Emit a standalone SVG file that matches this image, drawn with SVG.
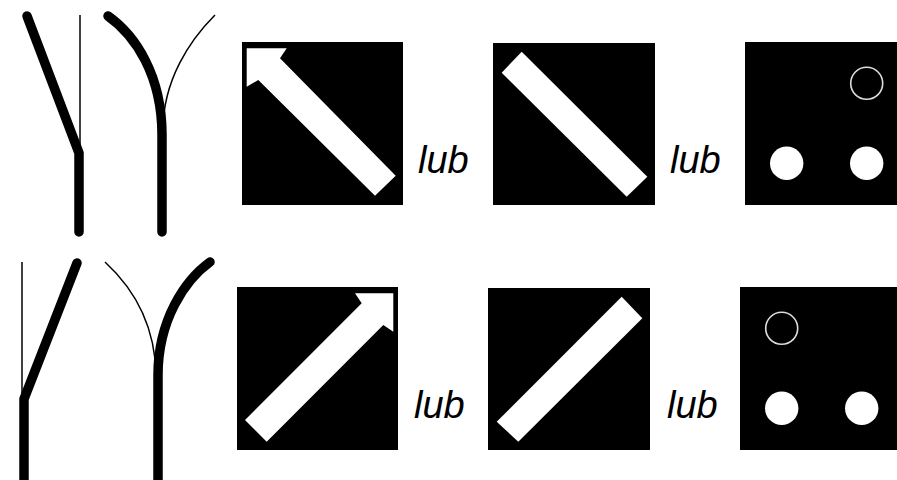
<svg xmlns="http://www.w3.org/2000/svg" width="897" height="480" viewBox="0 0 897 480">
<style>
.thick{fill:none;stroke:#000;stroke-width:9.5;stroke-linecap:round;stroke-linejoin:round}
.thin{fill:none;stroke:#000;stroke-width:1.5}
.box{fill:#000}
.w{fill:#fff}
.ring{fill:none;stroke:#ddd;stroke-width:1.6}
.lbl{font-family:"Liberation Sans",Arial,sans-serif;font-style:italic;font-size:38px;fill:#000}
</style>
<rect width="897" height="480" fill="#fff"/>
<g id="switch-top-left">
<line class="thin" x1="80" y1="15" x2="80" y2="153"/>
<path class="thick" d="M27,16 L79,153 L79,232"/>
</g>
<g id="switch-top-right">
<path class="thin" d="M215,15 C190,40 163,80 163,130"/>
<path class="thick" d="M108,16 C135,35 162,75 162,135 L162,232"/>
</g>
<g id="switch-bottom-left">
<line class="thin" x1="22" y1="262" x2="22" y2="398"/>
<path class="thick" d="M77,263 L24,399 L24,490"/>
</g>
<g id="switch-bottom-right">
<path class="thin" d="M105,262 C130,285 155,320 156,375"/>
<path class="thick" d="M210,262 C185,280 158,320 158,375 L158,490"/>
</g>
<g id="sign-arrow-ul">
<rect class="box" x="242" y="42" width="161" height="163"/>
<polygon class="w" points="246.7,48.3 286.7,48.3 280,58.3 395.7,175.7 375,195.7 258.3,80 246.7,86.7"/>
</g>
<text class="lbl" x="418" y="173">lub</text>
<g id="sign-stripe-down">
<rect class="box" x="493" y="43" width="162" height="162"/>
<polygon class="w" points="501.7,72.7 521.7,51.7 647.3,176.7 626.7,196.7"/>
</g>
<text class="lbl" x="670" y="173">lub</text>
<g id="sign-lights-right">
<rect class="box" x="745" y="42" width="160" height="163"/>
<circle class="ring" cx="866.7" cy="83.3" r="16"/>
<circle class="w" cx="786.7" cy="163.3" r="16.7"/>
<circle class="w" cx="866.7" cy="163.3" r="16.7"/>
</g>
<g id="sign-arrow-ur">
<rect class="box" x="237" y="287" width="161" height="163"/>
<polygon class="w" points="393.3,293.3 355,293.3 361.7,303.3 245,420 266.7,441.7 383.3,325 393.3,331.7"/>
</g>
<text class="lbl" x="414" y="418">lub</text>
<g id="sign-stripe-up">
<rect class="box" x="488" y="288" width="162" height="162"/>
<polygon class="w" points="621.7,296.7 642.3,318.3 518.3,441.7 496.7,421.7"/>
</g>
<text class="lbl" x="667" y="418">lub</text>
<g id="sign-lights-left">
<rect class="box" x="740" y="287" width="165" height="163"/>
<circle class="ring" cx="781.7" cy="328.3" r="16"/>
<circle class="w" cx="781.7" cy="408.3" r="16.7"/>
<circle class="w" cx="861.7" cy="408.3" r="16.7"/>
</g>
</svg>
